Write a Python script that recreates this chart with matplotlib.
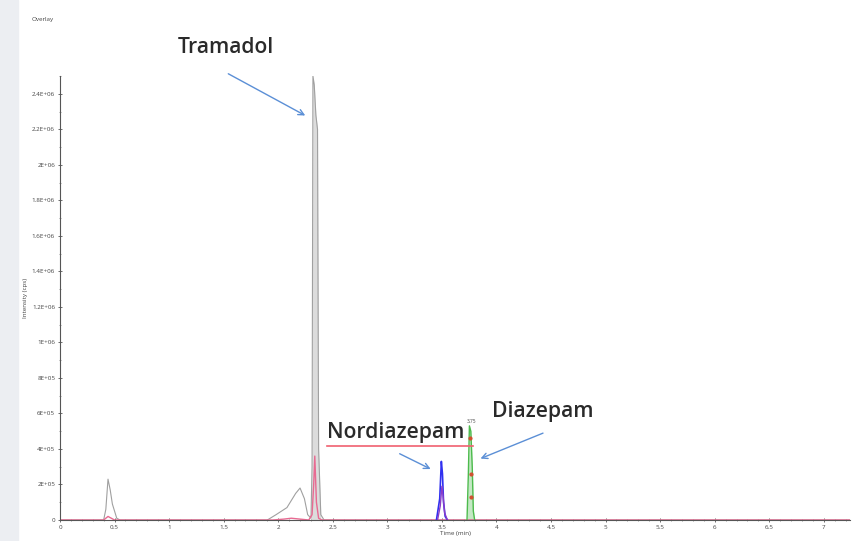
"""
Overlay chromatogram: tramadol, nordiazepam, diazepam.
"""

import matplotlib.pyplot as plt
from matplotlib.lines import Line2D
from matplotlib.ticker import MultipleLocator

# grey trace (total signal)
grey_t = [0.0, 0.40, 0.42, 0.44, 0.46, 0.48, 0.50, 0.52, 0.55, 1.90, 1.98, 2.03, 2.08,
          2.12, 2.16, 2.20, 2.24, 2.27, 2.30, 2.31, 2.318, 2.33, 2.345, 2.36, 2.37, 2.39, 2.42, 7.3]
grey_i = [0, 0, 0.6e5, 2.3e5, 1.7e5, 0.9e5, 0.5e5, 0.1e5, 0, 0, 0.3e5, 0.5e5, 0.7e5,
          1.1e5, 1.5e5, 1.8e5, 1.2e5, 0.3e5, 0.1e5, 0.3e6, 2.5e6, 2.45e6, 2.28e6, 2.2e6, 0.4e6, 0.03e6, 0, 0]

# pink trace
pink_t = [0.0, 0.40, 0.44, 0.47, 0.50, 1.95, 2.05, 2.12, 2.20, 2.28, 2.31, 2.325, 2.335, 2.35, 2.37, 2.40, 7.3]
pink_i = [0, 0, 0.2e5, 0.1e5, 0, 0, 0.05e5, 0.1e5, 0.05e5, 0, 0.3e5, 2.0e5, 3.6e5, 1.0e5, 0.1e5, 0, 0]

# nordiazepam (blue / purple)
blue_t = [3.45, 3.48, 3.495, 3.505, 3.515, 3.53, 3.55]
blue_i = [0, 1.2e5, 3.3e5, 2.6e5, 1.0e5, 0.2e5, 0]
purple_t = [3.46, 3.485, 3.50, 3.51, 3.525, 3.55]
purple_i = [0, 0.8e5, 1.9e5, 1.4e5, 0.4e5, 0]

# diazepam (green)
green_t = [3.73, 3.742, 3.752, 3.765, 3.778, 3.788, 3.80]
green_i = [0, 2.5e5, 5.3e5, 5.0e5, 3.0e5, 0.5e5, 0]
red_t = [3.76, 3.765, 3.77]
red_i = [4.6e5, 2.6e5, 1.3e5]

y_ticks = [0, 2e5, 4e5, 6e5, 8e5, 1e6, 1.2e6, 1.4e6, 1.6e6, 1.8e6, 2e6, 2.2e6, 2.4e6]
y_labels = ["0", "2E+05", "4E+05", "6E+05", "8E+05", "1E+06", "1.2E+06", "1.4E+06",
            "1.6E+06", "1.8E+06", "2E+06", "2.2E+06", "2.4E+06"]
x_ticks = [0, 0.5, 1, 1.5, 2, 2.5, 3, 3.5, 4, 4.5, 5, 5.5, 6, 6.5, 7]

plt.rcParams["font.family"] = ["Open Sans", "DejaVu Sans"]

fig = plt.figure(figsize=(8.59, 5.41), dpi=100)
fig.patch.set_facecolor("white")
# light grey border strip on the left
fig.add_artist(plt.Rectangle((0, 0), 18 / 859, 1, transform=fig.transFigure,
                             color="#eceef2", zorder=0))

ax = fig.add_axes([60 / 859, 21 / 541, 790 / 859, 444 / 541])
ax.set_xlim(0, 7.24)
ax.set_ylim(0, 2.5e6)

ax.fill_between(grey_t, grey_i, where=[2.29 <= t <= 2.4 for t in grey_t],
                color="#dcdcdc", lw=0)
ax.plot(grey_t, grey_i, color="#a0a0a0", lw=0.8)
ax.plot(pink_t, pink_i, color="#e86a92", lw=1.0)
ax.fill_between(green_t, green_i, color="#c4e8c4", lw=0)
ax.plot(green_t, green_i, color="#4cbb4c", lw=1.0)
ax.plot(red_t, red_i, ls="none", marker="o", ms=2, color="#d05030")
ax.plot(blue_t, blue_i, color="#3030f0", lw=1.2)
ax.plot(purple_t, purple_i, color="#8a3cc8", lw=1.0)

ax.set_xticks(x_ticks)
ax.set_xticklabels([f"{v:g}" for v in x_ticks])
ax.xaxis.set_minor_locator(MultipleLocator(0.1))
ax.set_yticks(y_ticks)
ax.set_yticklabels(y_labels)
ax.yaxis.set_minor_locator(MultipleLocator(1e5))
ax.tick_params(axis="both", which="major", labelsize=4.5, length=3, width=0.6,
               direction="inout", colors="#555555", labelcolor="#444444", pad=2)
ax.tick_params(axis="both", which="minor", length=2, width=0.5,
               direction="inout", colors="#777777")
for side in ["top", "right"]:
    ax.spines[side].set_visible(False)
for side in ["left", "bottom"]:
    ax.spines[side].set_color("#555555")
    ax.spines[side].set_linewidth(0.8)

ax.set_xlabel("Time (min)", fontsize=4.5, color="#444444", labelpad=1)
ax.set_ylabel("Intensity (cps)", fontsize=4.5, color="#444444", labelpad=3)
fig.text(32 / 859, 1 - 20 / 541, "Overlay", fontsize=4.5, color="#444444", va="center")

ax.text(3.768, 5.4e5, "3.75", fontsize=3.5, color="#444444", ha="center", va="bottom")

label_style = dict(fontsize=15.2, fontweight="semibold", color="#2a2a2a",
                   ha="left", va="center", annotation_clip=False)
arrow = dict(arrowstyle="->", color="#5b8fd6", lw=1.0)
ax.annotate("Tramadol", xy=(1.08, 2.66e6), **label_style)
ax.annotate("", xy=(2.27, 2.27e6), xytext=(1.52, 2.52e6), arrowprops=arrow,
            annotation_clip=False)
ax.annotate("Nordiazepam", xy=(2.45, 4.9e5), **label_style)
ax.annotate("", xy=(3.42, 2.8e5), xytext=(3.09, 3.8e5), arrowprops=arrow)
ax.annotate("Diazepam", xy=(3.96, 6.1e5), **label_style)
ax.annotate("", xy=(3.83, 3.4e5), xytext=(4.45, 4.95e5), arrowprops=arrow)

# spell-check underline under the Nordiazepam label
fig.add_artist(Line2D([327 / 859, 473 / 859], [1 - 446 / 541, 1 - 446 / 541],
                      transform=fig.transFigure, color="#f06070", lw=1.2))

fig.savefig("out.png", dpi=100, facecolor="white")
